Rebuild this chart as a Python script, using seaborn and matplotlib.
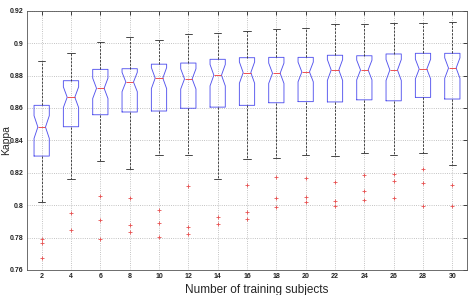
import matplotlib
matplotlib.use("Agg")
import matplotlib.pyplot as plt
import seaborn as sns
import pandas as pd

# values (kappa per number of training subjects)
subjects = [2, 4, 6, 8, 10, 12, 14, 16, 18, 20, 22, 24, 26, 28, 30]
whisker_low = [0.802, 0.8163, 0.8273, 0.8225, 0.831, 0.8308, 0.8289, 0.8283,
               0.829, 0.831, 0.8305, 0.8322, 0.8308, 0.832, 0.8248]
q1 = [0.8303, 0.8484, 0.8558, 0.8575, 0.8581, 0.8598, 0.8605, 0.8616,
      0.8632, 0.8639, 0.8637, 0.865, 0.8644, 0.8665, 0.8655]
median = [0.8482, 0.8666, 0.8721, 0.876, 0.8784, 0.8779, 0.8802, 0.8818,
          0.8814, 0.8822, 0.8834, 0.8834, 0.8834, 0.884, 0.8846]
q3 = [0.8616, 0.8768, 0.8838, 0.8842, 0.887, 0.8877, 0.890, 0.891,
      0.8912, 0.8912, 0.8925, 0.8922, 0.8933, 0.8937, 0.8937]
whisker_high = [0.889, 0.894, 0.9009, 0.904, 0.902, 0.9054, 0.9064, 0.9073,
                0.9087, 0.9095, 0.9118, 0.9116, 0.9122, 0.9122, 0.9132]
outliers = [
    [0.7672, 0.7767, 0.779],
    [0.7849, 0.795],
    [0.7793, 0.7907, 0.8059],
    [0.7835, 0.7878, 0.8046],
    [0.7804, 0.7892, 0.797],
    [0.7822, 0.7867, 0.812],
    [0.7886, 0.7925, 0.8163],
    [0.7917, 0.7958, 0.8126],
    [0.7991, 0.8046, 0.8176],
    [0.802, 0.8049, 0.817],
    [0.7997, 0.8028, 0.8143],
    [0.8032, 0.8086, 0.8184],
    [0.8046, 0.8147, 0.8194],
    [0.7995, 0.8137, 0.8225],
    [0.7995, 0.8126],
]
ytick_vals = [0.76, 0.78, 0.8, 0.82, 0.84, 0.86, 0.88, 0.9, 0.92]
ytick_labels = ["0.76", "0.78", "0.8", "0.82", "0.84", "0.86", "0.88", "0.9", "0.92"]

# samples of 49 runs per group that reproduce the read-off quartiles/whiskers
M = 12
rows = []
for s, lo, a, md, b, hi, out in zip(subjects, whisker_low, q1, median, q3,
                                     whisker_high, outliers):
    vals = list(out) + [lo] + [a] * (M - len(out)) + [md] * M + [b] * M + [hi] * M
    rows += [(s, v) for v in vals]
df = pd.DataFrame(rows, columns=["subjects", "kappa"])

sns.set_style("white")
plt.rcParams["font.family"] = ["Liberation Sans", "DejaVu Sans"]

fig = plt.figure(figsize=(4.76, 2.95), dpi=100)
ax = fig.add_axes([27 / 476, 1 - 270 / 295, 440 / 476, 259.3 / 295])

sns.boxplot(
    data=df, x="subjects", y="kappa", order=subjects, ax=ax,
    notch=True, fill=False, width=0.52, color="#5555ee", linewidth=0.65,
    fliersize=3,
    medianprops=dict(color="#ee4444", linewidth=0.65),
    whiskerprops=dict(color="#3a3a3a", linestyle=(0, (2.5, 1.5)), linewidth=0.65),
    capprops=dict(color="#3a3a3a", linewidth=0.65),
    flierprops=dict(marker="+", markeredgecolor="#e85050", markersize=3,
                    markeredgewidth=0.6),
)

ax.set_xlim(-0.5, len(subjects) - 0.5)
ax.set_ylim(0.76, 0.92)
ax.set_yticks(ytick_vals)
ax.set_yticklabels(ytick_labels)
ax.grid(True, linestyle=":", color="#b0b0b0", linewidth=0.6)
ax.set_axisbelow(True)
ax.tick_params(direction="in", top=True, right=True, length=3, width=0.6,
               labelsize=5, pad=2.5, colors="#222222")
for lab in ax.get_xticklabels() + ax.get_yticklabels():
    lab.set_fontweight("bold")
for sp in ax.spines.values():
    sp.set_color("#555555")
    sp.set_linewidth(0.6)

ax.set_xlabel("Number of training subjects", fontsize=8.5)
ax.xaxis.set_label_coords(0.523, -0.055)
ax.set_ylabel("Kappa", fontsize=7.5)
ax.yaxis.set_label_coords(-0.037, 0.5)

fig.savefig("out.png", dpi=100)
